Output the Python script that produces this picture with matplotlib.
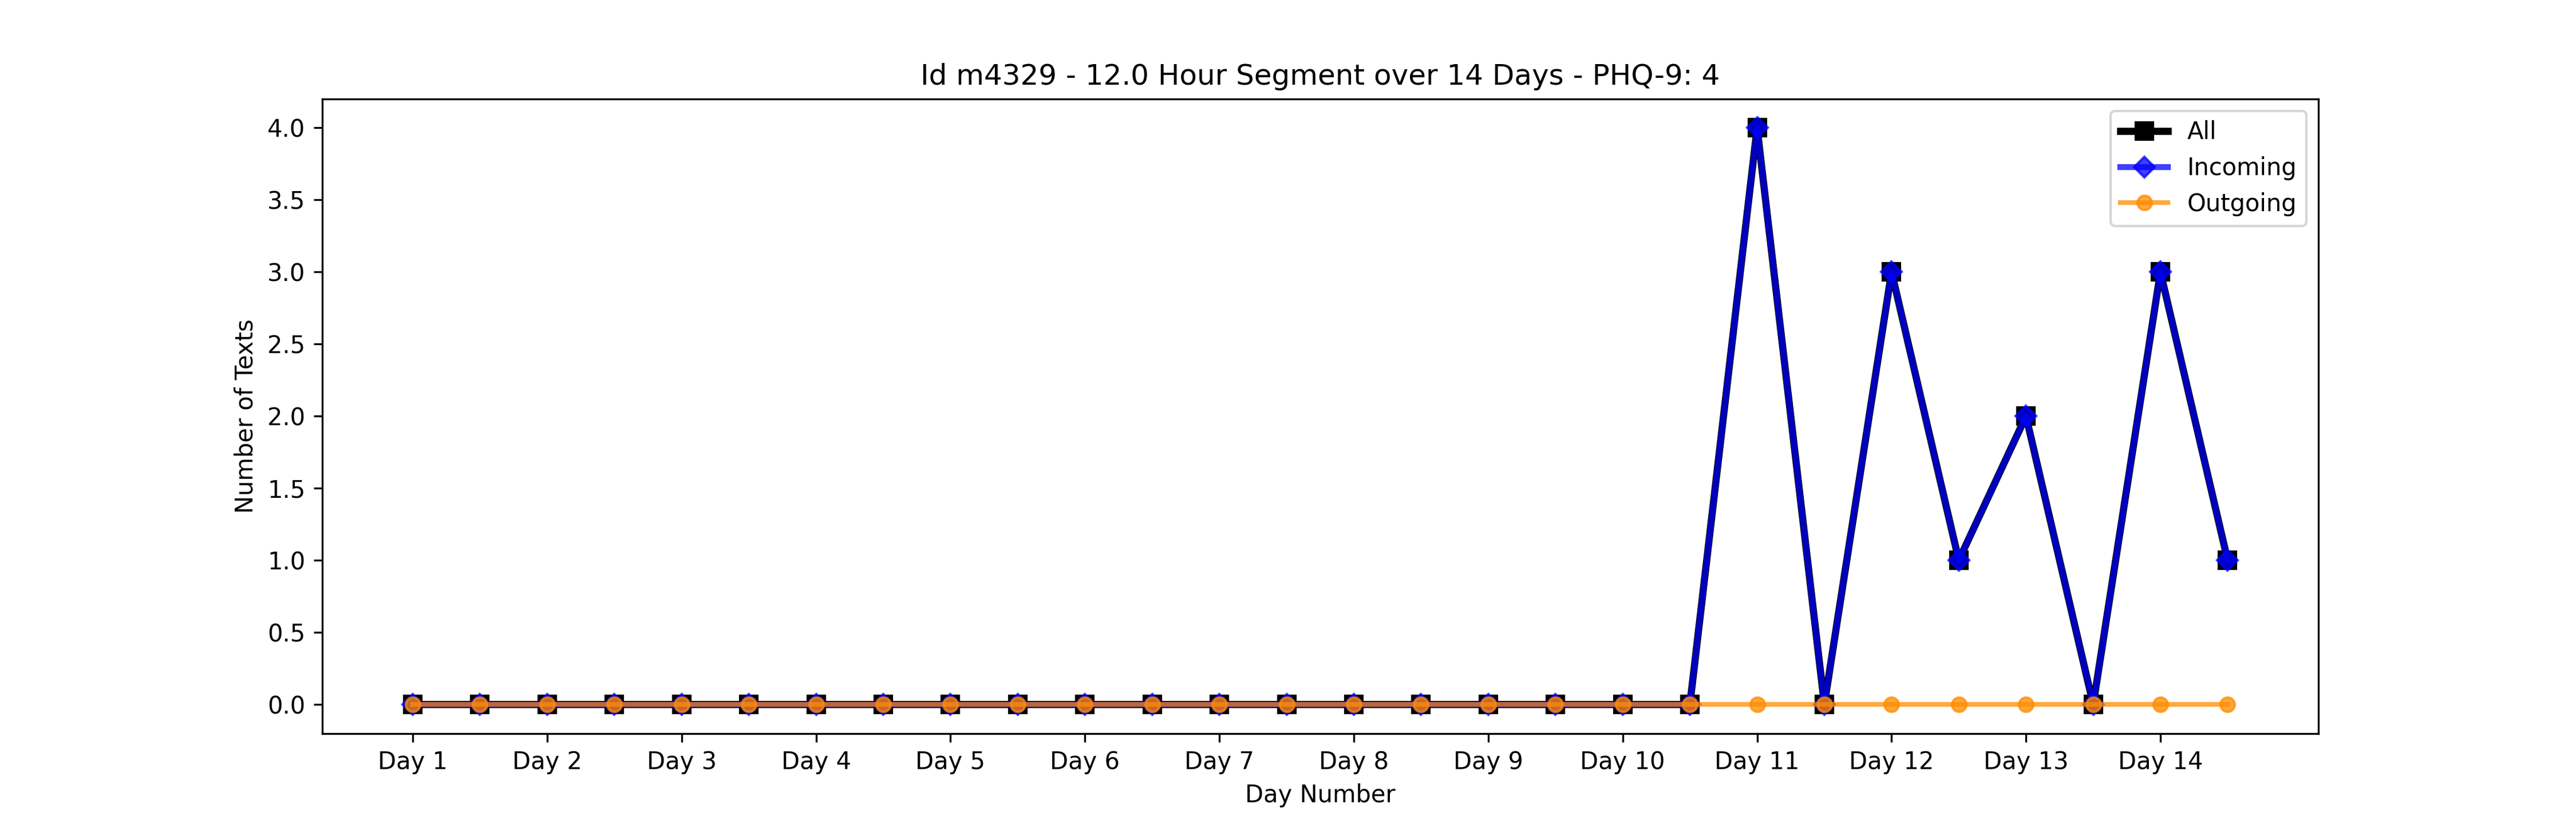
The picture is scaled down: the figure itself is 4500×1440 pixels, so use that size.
import matplotlib
matplotlib.use('Agg')
import matplotlib.pyplot as plt

day_labels = [f'Day {d}' for d in range(1, 15)]
all_texts = [0]*20 + [4, 0, 3, 1, 2, 0, 3, 1]
incoming = [0]*20 + [4, 0, 3, 1, 2, 0, 3, 1]
outgoing = [0]*28

x = list(range(len(all_texts)))

fig, ax = plt.subplots(figsize=(15, 4.8))
ax.plot(x, all_texts, color='black', marker='s', linewidth=3, markersize=7, label='All')
ax.plot(x, incoming, color='blue', marker='D', linewidth=2.5, markersize=6, alpha=0.75, label='Incoming')
ax.plot(x, outgoing, color='darkorange', marker='o', linewidth=2, markersize=6, alpha=0.75, label='Outgoing')

ax.set_xticks(x[::2])
ax.set_xticklabels(day_labels)
ax.set_xlabel('Day Number')
ax.set_ylabel('Number of Texts')
ax.set_title('Id m4329 - 12.0 Hour Segment over 14 Days - PHQ-9: 4')
ax.legend(loc='upper right')

plt.savefig('out.png', dpi=300)
